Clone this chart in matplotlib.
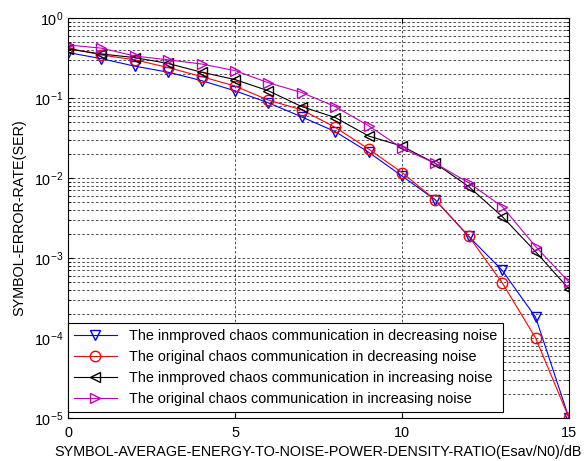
import numpy as np
import matplotlib.pyplot as plt
from matplotlib.ticker import LogLocator, NullFormatter

plt.rcParams['font.family'] = ['Liberation Sans', 'DejaVu Sans']

snr = np.arange(0, 16)

# SER values
ser_imp_dec = [0.37, 0.31, 0.25, 0.21, 0.165, 0.123, 0.087, 0.058, 0.038, 0.021,
               0.0106, 0.0053, 0.00186, 0.0007, 0.000182, 1e-5]
ser_org_dec = [0.42, 0.345, 0.30, 0.24, 0.185, 0.141, 0.094, 0.071, 0.043, 0.023,
               0.0117, 0.0053, 0.00186, 0.00049, 0.0001, 1e-5]
ser_imp_inc = [0.41, 0.355, 0.32, 0.27, 0.21, 0.17, 0.123, 0.078, 0.057, 0.0335,
               0.025, 0.0152, 0.0078, 0.0033, 0.0012, 0.00041]
ser_org_inc = [0.46, 0.42, 0.335, 0.30, 0.266, 0.22, 0.155, 0.117, 0.078, 0.045,
               0.0235, 0.0152, 0.0087, 0.0044, 0.00139, 0.0005]

labels = ['The inmproved chaos communication in decreasing noise',
          'The original chaos communication in decreasing noise',
          'The inmproved chaos communication in increasing noise',
          'The original chaos communication in increasing noise']

fig = plt.figure(figsize=(5.84, 4.61), dpi=100)
ax = fig.add_axes([68/584, 1-418/461, (569-68)/584, 400/461])

ms = 7.5
ax.semilogy(snr, ser_imp_dec, color='b', marker='v', mfc='none', ms=ms, lw=0.8, label=labels[0])
ax.semilogy(snr, ser_org_dec, color='r', marker='o', mfc='none', ms=ms, lw=0.8, label=labels[1])
ax.semilogy(snr, ser_imp_inc, color='k', marker='<', mfc='none', ms=ms, lw=0.8, label=labels[2])
ax.semilogy(snr, ser_org_inc, color='m', marker='>', mfc='none', ms=ms, lw=0.8, label=labels[3])

ax.set_xlim(0, 15)
ax.set_ylim(1e-5, 1)
ax.set_xticks([0, 5, 10, 15])
ax.yaxis.set_minor_locator(LogLocator(base=10, subs=np.arange(2, 10)))
ax.yaxis.set_minor_formatter(NullFormatter())
ax.grid(True, which='major', linestyle=(0, (3, 2.5)), color='#333333', linewidth=0.6)
ax.grid(True, which='minor', axis='y', linestyle=(0, (3, 2.5)), color='#333333', linewidth=0.6)
ax.tick_params(which='both', direction='in', top=True, right=True, labelsize=10.4)
ax.tick_params(axis='x', pad=6)

ax.set_xlabel('SYMBOL-AVERAGE-ENERGY-TO-NOISE-POWER-DENSITY-RATIO(Esav/N0)/dB', fontsize=10.4, labelpad=3)
ax.set_ylabel('SYMBOL-ERROR-RATE(SER)', fontsize=10.4, labelpad=5)

leg = ax.legend(loc='lower left', bbox_to_anchor=(0.0, 6/400), fontsize=10.4, fancybox=False,
                framealpha=1, edgecolor='k', handlelength=3, borderaxespad=0, labelspacing=0.5)
leg.get_frame().set_linewidth(0.8)

fig.savefig('out.png', dpi=100)
